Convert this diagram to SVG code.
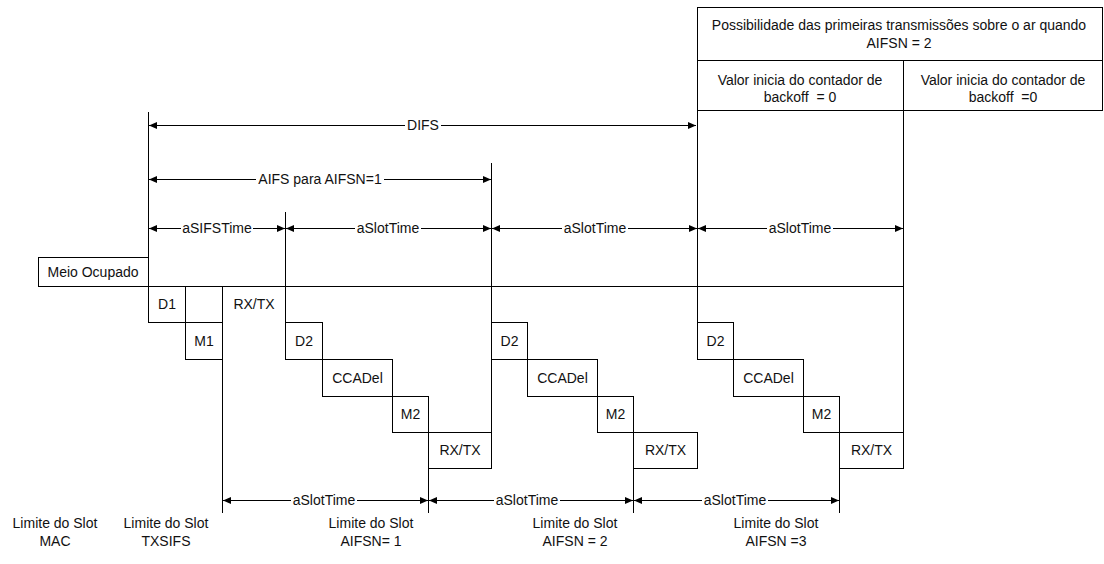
<svg xmlns="http://www.w3.org/2000/svg" width="1104" height="564" viewBox="0 0 1104 564">
<defs>
<marker id="ah" markerUnits="userSpaceOnUse" markerWidth="9" markerHeight="8" refX="8" refY="3.5" orient="auto-start-reverse">
<path d="M0,0 L8,3.5 L0,7 z" fill="#000"/>
</marker>
<style>
text{font-family:"Liberation Sans",Arial,sans-serif;font-size:14px;fill:#111;text-anchor:middle}
.b{fill:#fff;stroke:#000;stroke-width:1}
.l{fill:none;stroke:#000;stroke-width:1}
.a{fill:none;stroke:#000;stroke-width:1;marker-start:url(#ah);marker-end:url(#ah)}
</style>
</defs>
<rect width="1104" height="564" fill="#fff"/>

<g id="connectors">
<path class="l" d="M148.5,112 V286 M285.5,212 V322 M491.5,163 V432 M697.5,111 V322 M903.5,111 V432 M222.5,286 V513 M428.5,468 V513 M633.5,468 V513 M839.5,468 V513 M148,286.5 H903"/>
<path class="a" d="M149,125.5 H405 M441,125.5 H696"/>
<path class="a" d="M149,179.5 H256 M384,179.5 H491"/>
<path class="a" d="M149,228.5 H181 M253,228.5 H285"/>
<path class="a" d="M286,228.5 H355 M421,228.5 H491"/>
<path class="a" d="M492,228.5 H562 M628,228.5 H697"/>
<path class="a" d="M698,228.5 H767 M833,228.5 H903"/>
<path class="a" d="M223,500.5 H291 M357,500.5 H428"/>
<path class="a" d="M429,500.5 H494 M560,500.5 H633"/>
<path class="a" d="M634,500.5 H702 M768,500.5 H839"/>
<text x="423" y="130">DIFS</text>
<text x="320" y="184">AIFS para AIFSN=1</text>
<text x="217" y="233">aSIFSTime</text>
<text x="388" y="233">aSlotTime</text>
<text x="595" y="233">aSlotTime</text>
<text x="800" y="233">aSlotTime</text>
<text x="324" y="505">aSlotTime</text>
<text x="527" y="505">aSlotTime</text>
<text x="735" y="505">aSlotTime</text>
</g>

<g id="topbox">
<rect class="b" x="697.5" y="7.5" width="405" height="53"/>
<text x="899" y="30">Possibilidade das primeiras transmissões sobre o ar quando</text>
<text x="899" y="48">AIFSN = 2</text>
</g>
<g id="cell1">
<rect class="b" x="697.5" y="60.5" width="206" height="50"/>
<text x="800" y="85">Valor inicia do contador de</text>
<text x="800" y="102">backoff&#160; = 0</text>
</g>
<g id="cell2">
<rect class="b" x="903.5" y="60.5" width="199" height="50"/>
<text x="1003" y="85">Valor inicia do contador de</text>
<text x="1003" y="102">backoff&#160; =0</text>
</g>

<g id="meio"><rect class="b" x="38.5" y="257.5" width="110" height="29"/><text x="93" y="276.5">Meio Ocupado</text></g>
<g id="d1"><rect class="b" x="148.5" y="286.5" width="37" height="36"/><text x="167" y="309">D1</text></g>
<g id="m1"><rect class="b" x="185.5" y="322.5" width="37" height="37"/><text x="204" y="345.5">M1</text></g>
<g id="rxtx1"><text x="254" y="309">RX/TX</text></g>

<g id="d2a"><rect class="b" x="285.5" y="322.5" width="37" height="37"/><text x="304" y="345.5">D2</text></g>
<g id="ccadela"><rect class="b" x="322.5" y="359.5" width="70" height="37"/><text x="357.5" y="382.5">CCADel</text></g>
<g id="m2a"><rect class="b" x="392.5" y="396.5" width="36" height="36"/><text x="410.5" y="419">M2</text></g>
<g id="rxtxa"><rect class="b" x="428.5" y="432.5" width="63" height="36"/><text x="460" y="455">RX/TX</text></g>

<g id="d2b"><rect class="b" x="491.5" y="322.5" width="36" height="37"/><text x="509.5" y="345.5">D2</text></g>
<g id="ccadelb"><rect class="b" x="527.5" y="359.5" width="70" height="37"/><text x="562.5" y="382.5">CCADel</text></g>
<g id="m2b"><rect class="b" x="597.5" y="396.5" width="36" height="36"/><text x="615.5" y="419">M2</text></g>
<g id="rxtxb"><rect class="b" x="633.5" y="432.5" width="64" height="36"/><text x="665.5" y="455">RX/TX</text></g>

<g id="d2c"><rect class="b" x="697.5" y="322.5" width="36" height="37"/><text x="715.5" y="345.5">D2</text></g>
<g id="ccadelc"><rect class="b" x="733.5" y="359.5" width="70" height="37"/><text x="768.5" y="382.5">CCADel</text></g>
<g id="m2c"><rect class="b" x="803.5" y="396.5" width="36" height="36"/><text x="821.5" y="419">M2</text></g>
<g id="rxtxc"><rect class="b" x="839.5" y="432.5" width="64" height="36"/><text x="871.5" y="455">RX/TX</text></g>

<g id="lim-mac"><text x="55" y="528">Limite do Slot</text><text x="55" y="546">MAC</text></g>
<g id="lim-txsifs"><text x="166" y="528">Limite do Slot</text><text x="166" y="546">TXSIFS</text></g>
<g id="lim-aifsn1"><text x="371" y="528">Limite do Slot</text><text x="371" y="546">AIFSN= 1</text></g>
<g id="lim-aifsn2"><text x="575" y="528">Limite do Slot</text><text x="575" y="546">AIFSN = 2</text></g>
<g id="lim-aifsn3"><text x="776" y="528">Limite do Slot</text><text x="776" y="546">AIFSN =3</text></g>
</svg>
